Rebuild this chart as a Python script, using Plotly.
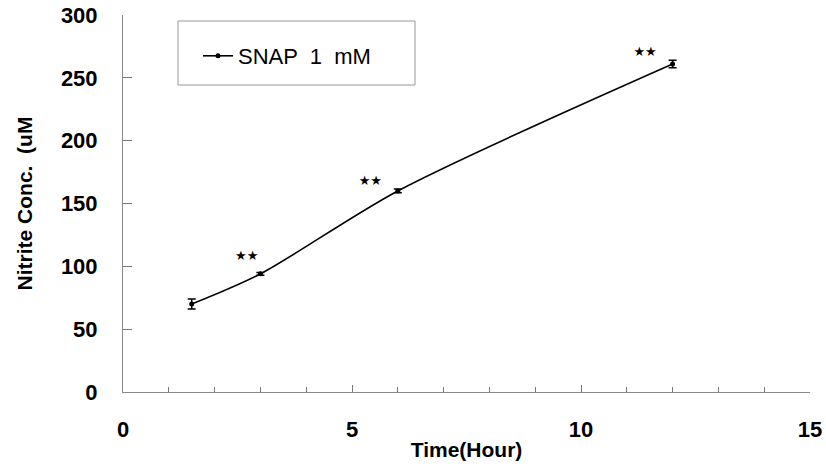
import plotly.graph_objects as go

time_h = [1.5, 3, 6, 12]
nitrite = [70, 94, 160, 261]
err = [4, 1, 1.5, 3]
star_x = [2.7, 5.4, 11.4]
star_y = [108, 167, 270]
star_label = "★★"

FONT = "Liberation Sans, Arial, sans-serif"

fig = go.Figure()
fig.add_trace(go.Scatter(
    x=time_h, y=nitrite, mode="lines+markers", name="SNAP  1  mM",
    line=dict(color="black", width=1.6, shape="spline", smoothing=0.8),
    marker=dict(color="black", size=5, symbol="circle"),
    error_y=dict(type="data", array=err, color="black", thickness=1.5, width=4),
))
fig.add_trace(go.Scatter(
    x=star_x, y=star_y, mode="text", text=[star_label] * len(star_x),
    textfont=dict(size=13, color="black", family="DejaVu Sans"),
    showlegend=False, hoverinfo="skip",
))

fig.add_shape(type="rect", xref="paper", yref="paper",
              x0=(178 - 123) / 687, x1=(415 - 123) / 687,
              y0=(392 - 85) / 377, y1=(392 - 21) / 377,
              line=dict(color="#999999", width=1))

fig.update_layout(
    width=826, height=469,
    margin=dict(l=123, r=16, t=15, b=77),
    paper_bgcolor="white", plot_bgcolor="white",
    font=dict(family=FONT, color="black"),
    showlegend=True,
    legend=dict(x=(198 - 123) / 687, y=(392 - 56) / 377, xanchor="left", yanchor="middle",
                bgcolor="rgba(0,0,0,0)", borderwidth=0,
                font=dict(size=22, family=FONT, color="black")),
    xaxis=dict(range=[0, 15], tickvals=[0, 5, 10, 15], ticks="inside", ticklen=7,
               tickcolor="#777", showline=True, linecolor="#888", linewidth=1,
               showgrid=False, zeroline=False, automargin=False, ticklabelstandoff=18,
               ticklabeloverflow="allow",
               tickfont=dict(size=22, family=FONT, color="black", weight="bold"),
               minor=dict(dtick=1, ticks="inside", ticklen=5, tickcolor="#777", showgrid=False),
               title=dict(text="Time(Hour)", font=dict(size=21, family=FONT, weight="bold"), standoff=0)),
    yaxis=dict(range=[0, 300], tickvals=[0, 50, 100, 150, 200, 250, 300], ticks="inside",
               ticklen=9, tickcolor="#777", showline=True, linecolor="#888", linewidth=1,
               showgrid=False, zeroline=False, automargin=False, ticklabelstandoff=20,
               ticklabeloverflow="allow",
               tickfont=dict(size=22, family=FONT, color="black", weight="bold"),
               title=dict(text="Nitrite Conc.  (uM", font=dict(size=21, family=FONT, weight="bold"), standoff=22)),
)

fig.write_html("out.html", config={"displayModeBar": False},
               post_script="document.body.style.margin='0';")
